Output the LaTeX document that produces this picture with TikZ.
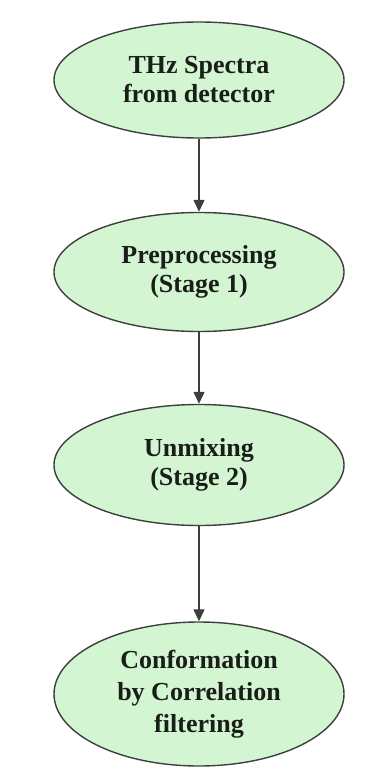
\documentclass[tikz,border=0pt]{standalone}
\usepackage{fontspec}
\setmainfont{Liberation Serif}
\usetikzlibrary{shapes.geometric,arrows.meta}
\definecolor{ellfill}{RGB}{212,245,210}
\definecolor{ellline}{RGB}{60,64,60}
\definecolor{txt}{RGB}{25,30,25}
\tikzset{
  stagebox/.style={ellipse, draw=ellline, line width=1.4pt, fill=ellfill,
    minimum width=290pt, inner sep=0pt, align=center, text=txt,
    font=\bfseries\fontsize{26}{29}\selectfont},
  flow/.style={draw=ellline, line width=1.3pt, -{Triangle[length=12pt,width=11pt]}}
}
\begin{document}
\begin{tikzpicture}[x=1pt,y=-1pt]
\useasboundingbox (0,0) rectangle (365,768);
\node[stagebox, minimum height=116pt] (e1) at (199,80) {THz Spectra\\from detector};
\node[stagebox, minimum height=119pt] (e2) at (199,272) {Preprocessing\\(Stage 1)};
\node[stagebox, minimum height=121pt] (e3) at (199,465) {Unmixing\\(Stage 2)};
\node[stagebox, minimum height=144pt, font=\bfseries\fontsize{26}{32}\selectfont] (e4) at (199,694) {Conformation\\by Correlation\\filtering};
\draw[flow] (e1) -- (e2);
\draw[flow] (e2) -- (e3);
\draw[flow] (e3) -- (e4);
\end{tikzpicture}
\end{document}
